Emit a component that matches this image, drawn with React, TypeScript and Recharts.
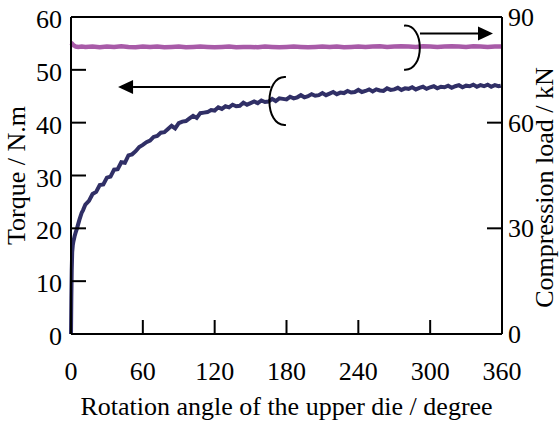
import React from "react";
import { ComposedChart, Line, XAxis, YAxis, ReferenceLine, ReferenceDot, Label } from "recharts";

const FONT = "'Liberation Serif', 'Times New Roman', serif";
const TORQUE_COLOR = "#302f66";
const LOAD_COLOR = "#a85ba8";

const angleTicks = [0, 60, 120, 180, 240, 300, 360];
const torqueTicks = [0, 10, 20, 30, 40, 50, 60];
const loadTicks = [0, 30, 60, 90];

// torque (N.m)
const torqueAngles = [
  0, 0.3, 0.6, 1, 1.5, 2, 3, 4, 5, 6, 7, 8, 9, 10,
  12, 15, 18, 21, 24, 27, 30, 33, 36, 39, 42, 45, 48, 51, 54, 57,
  60, 63, 66, 69, 72, 75, 78, 81, 84, 87, 90, 93, 96, 99, 102, 105, 108, 111, 114, 117,
  120, 123, 126, 129, 132, 135, 138, 141, 144, 147, 150, 153, 156, 159, 162, 165, 168, 171, 174, 177,
  180, 183, 186, 189, 192, 195, 198, 201, 204, 207, 210, 213, 216, 219, 222, 225, 228, 231, 234, 237,
  240, 243, 246, 249, 252, 255, 258, 261, 264, 267, 270, 273, 276, 279, 282, 285, 288, 291, 294, 297,
  300, 303, 306, 309, 312, 315, 318, 321, 324, 327, 330, 333, 336, 339, 342, 345, 348, 351, 354, 357, 359,
];
const torqueValues = [
  0, 7, 12, 15.5, 16.8, 17.5, 18.5, 19.3, 20.0, 20.8, 21.6, 22.3, 23.0, 23.4,
  24.5, 25.2, 26.5, 26.9, 28.2, 28.3, 29.6, 29.8, 31.1, 31.2, 32.5, 32.4, 33.8, 34.0, 34.6, 35.4,
  35.8, 36.3, 36.6, 37.3, 37.5, 38.1, 38.2, 38.8, 39.4, 38.9, 39.9, 40.2, 40.3, 40.8, 41.3, 40.9, 41.8, 41.9, 42.0, 42.4,
  42.3, 42.9, 42.6, 43.1, 42.9, 43.4, 43.1, 43.2, 43.8, 43.4, 43.7, 44.0, 43.7, 44.2, 43.9, 44.0, 44.5, 44.1, 44.6, 44.5,
  44.4, 44.9, 44.6, 44.8, 45.2, 44.8, 45.0, 45.4, 45.1, 45.2, 45.6, 45.2, 45.5, 45.8, 45.4, 45.7, 45.6, 46.0, 45.7, 45.8,
  46.2, 45.8, 46.0, 46.3, 45.9, 46.3, 46.1, 46.0, 46.5, 46.2, 46.3, 46.6, 46.2, 46.5, 46.4, 46.7, 46.3, 46.6, 46.8, 46.4,
  46.7, 46.9, 46.5, 46.8, 46.7, 47.0, 46.6, 46.9, 47.1, 46.7, 47.0, 46.9, 47.2, 46.8, 47.1, 46.9, 47.2, 46.8, 47.1, 46.9, 47.0,
];

// compression load (kN)
const loadAngles = [
  0, 1, 2, 3, 4, 6, 9, 12, 18, 24, 30, 36, 42, 48, 54, 60, 66, 72, 78, 84, 90, 96, 102, 108, 114,
  120, 126, 132, 138, 144, 150, 156, 162, 168, 174, 180, 186, 192, 198, 204, 210, 216, 222, 228, 234,
  240, 246, 252, 258, 264, 270, 276, 282, 288, 294, 300, 306, 312, 318, 324, 330, 336, 342, 348, 354, 360,
];
const loadValues = [
  82.7, 82.4, 82.0, 81.8, 81.6, 81.5, 81.6, 81.5, 81.6, 81.4, 81.6, 81.5, 81.7, 81.5, 81.4, 81.6, 81.5, 81.6, 81.4, 81.5, 81.6, 81.4, 81.5, 81.6, 81.5,
  81.4, 81.5, 81.6, 81.4, 81.5, 81.5, 81.4, 81.6, 81.5, 81.4, 81.5, 81.6, 81.5, 81.4, 81.5, 81.6, 81.5, 81.6, 81.4, 81.5,
  81.6, 81.5, 81.6, 81.7, 81.5, 81.6, 81.7, 81.6, 81.5, 81.7, 81.6, 81.5, 81.6, 81.7, 81.6, 81.5, 81.7, 81.6, 81.5, 81.6, 81.6,
];

const torqueData = torqueAngles.map((angle, i) => ({ angle, torque: torqueValues[i] }));
const loadData = loadAngles.map((angle, i) => ({ angle, load: loadValues[i] }));

const textStyle = { fontFamily: FONT, fontSize: 26, fill: "#000" };

const LeftTick = ({ x, y, payload }: any) => {
  const v = payload.value;
  return (
    <g>
      {v !== 0 && v !== 60 && <line x1={x} y1={y} x2={x + 15} y2={y} stroke="#000" strokeWidth={2} />}
      <text x={x - 9} y={y + 11} textAnchor="end" style={textStyle}>{v}</text>
    </g>
  );
};

const RightTick = ({ x, y, payload }: any) => {
  const v = payload.value;
  return (
    <g>
      {v !== 0 && v !== 90 && <line x1={x} y1={y} x2={x - 15} y2={y} stroke="#000" strokeWidth={2} />}
      <text x={x + 6} y={y + 9} textAnchor="start" style={textStyle}>{v}</text>
    </g>
  );
};

const BottomTick = ({ x, y, payload }: any) => {
  const v = payload.value;
  return (
    <g>
      {v !== 0 && v !== 360 && <line x1={x} y1={y} x2={x} y2={y - 14} stroke="#000" strokeWidth={2} />}
      <text x={x} y={y + 46} textAnchor="middle" style={textStyle}>{v}</text>
    </g>
  );
};

const Arrow = ({ x1, y1, x2, y2 }: any) => {
  const dir = x2 > x1 ? 1 : -1;
  const base = x2 - dir * 15;
  return (
    <g>
      <line x1={x1} y1={y1} x2={base} y2={y2} stroke="#000" strokeWidth={2} />
      <polygon points={`${x2},${y2} ${base},${y2 - 7} ${base},${y2 + 7}`} fill="#000" />
    </g>
  );
};

const OpenArc = ({ cx, cy }: any) => (
  <path
    d={`M ${cx + 3} ${cy - 24} C ${cx - 19} ${cy - 26}, ${cx - 19} ${cy + 26}, ${cx + 3} ${cy + 24}`}
    fill="none"
    stroke="#000"
    strokeWidth={2}
  />
);

const CloseArc = ({ cx, cy }: any) => (
  <path
    d={`M ${cx - 3} ${cy - 22} C ${cx + 18} ${cy - 24}, ${cx + 18} ${cy + 24}, ${cx - 3} ${cy + 22}`}
    fill="none"
    stroke="#000"
    strokeWidth={2}
  />
);

export default function App() {
  return (
    <div style={{ position: "absolute", left: 0, top: 0, background: "#fff" }}>
      <ComposedChart width={559} height={423} margin={{ top: 17, right: 0, bottom: 0, left: 0 }}>
        <XAxis
          dataKey="angle"
          type="number"
          domain={[0, 360]}
          ticks={angleTicks}
          height={89}
          tickSize={0}
          tickMargin={0}
          tick={<BottomTick />}
          axisLine={{ stroke: "#000", strokeWidth: 2 }}
        >
          <Label
            content={({ viewBox }: any) => (
              <text x={viewBox.x + viewBox.width / 2} y={viewBox.y + 81} textAnchor="middle" style={textStyle}>
                Rotation angle of the upper die / degree
              </text>
            )}
          />
        </XAxis>
        <YAxis
          yAxisId="left"
          domain={[0, 60]}
          ticks={torqueTicks}
          width={71}
          tickSize={0}
          tickMargin={0}
          tick={<LeftTick />}
          axisLine={{ stroke: "#000", strokeWidth: 2 }}
        >
          <Label
            content={({ viewBox }: any) => {
              const x = viewBox.x + 25;
              const y = viewBox.y + viewBox.height / 2;
              return (
                <text x={x} y={y} transform={`rotate(-90 ${x} ${y})`} textAnchor="middle" style={textStyle}>
                  Torque / N.m
                </text>
              );
            }}
          />
        </YAxis>
        <YAxis
          yAxisId="right"
          orientation="right"
          domain={[0, 90]}
          ticks={loadTicks}
          width={57}
          tickSize={0}
          tickMargin={0}
          tick={<RightTick />}
          axisLine={{ stroke: "#000", strokeWidth: 2 }}
        >
          <Label
            content={({ viewBox }: any) => {
              const x = viewBox.x + 51;
              const y = viewBox.y + viewBox.height / 2 + 12;
              return (
                <text x={x} y={y} transform={`rotate(-90 ${x} ${y})`} textAnchor="middle" style={textStyle}>
                  Compression load / kN
                </text>
              );
            }}
          />
        </YAxis>

        <ReferenceLine yAxisId="left" y={60} stroke="#000" strokeWidth={2} />

        <Line
          yAxisId="left"
          data={torqueData}
          dataKey="torque"
          type="linear"
          stroke={TORQUE_COLOR}
          strokeWidth={4}
          dot={false}
          isAnimationActive={false}
        />
        <Line
          yAxisId="right"
          data={loadData}
          dataKey="load"
          type="linear"
          stroke={LOAD_COLOR}
          strokeWidth={4.5}
          dot={false}
          isAnimationActive={false}
        />

        <ReferenceLine
          yAxisId="left"
          segment={[{ x: 166.5, y: 46.75 }, { x: 39.3, y: 46.75 }]}
          shape={<Arrow />}
        />
        <ReferenceDot yAxisId="left" x={177} y={44.1} r={1} shape={<OpenArc />} />
        <ReferenceLine
          yAxisId="left"
          segment={[{ x: 291.5, y: 56.9 }, { x: 352.5, y: 56.9 }]}
          shape={<Arrow />}
        />
        <ReferenceDot yAxisId="left" x={280.7} y={54.2} r={1} shape={<CloseArc />} />
      </ComposedChart>
    </div>
  );
}
